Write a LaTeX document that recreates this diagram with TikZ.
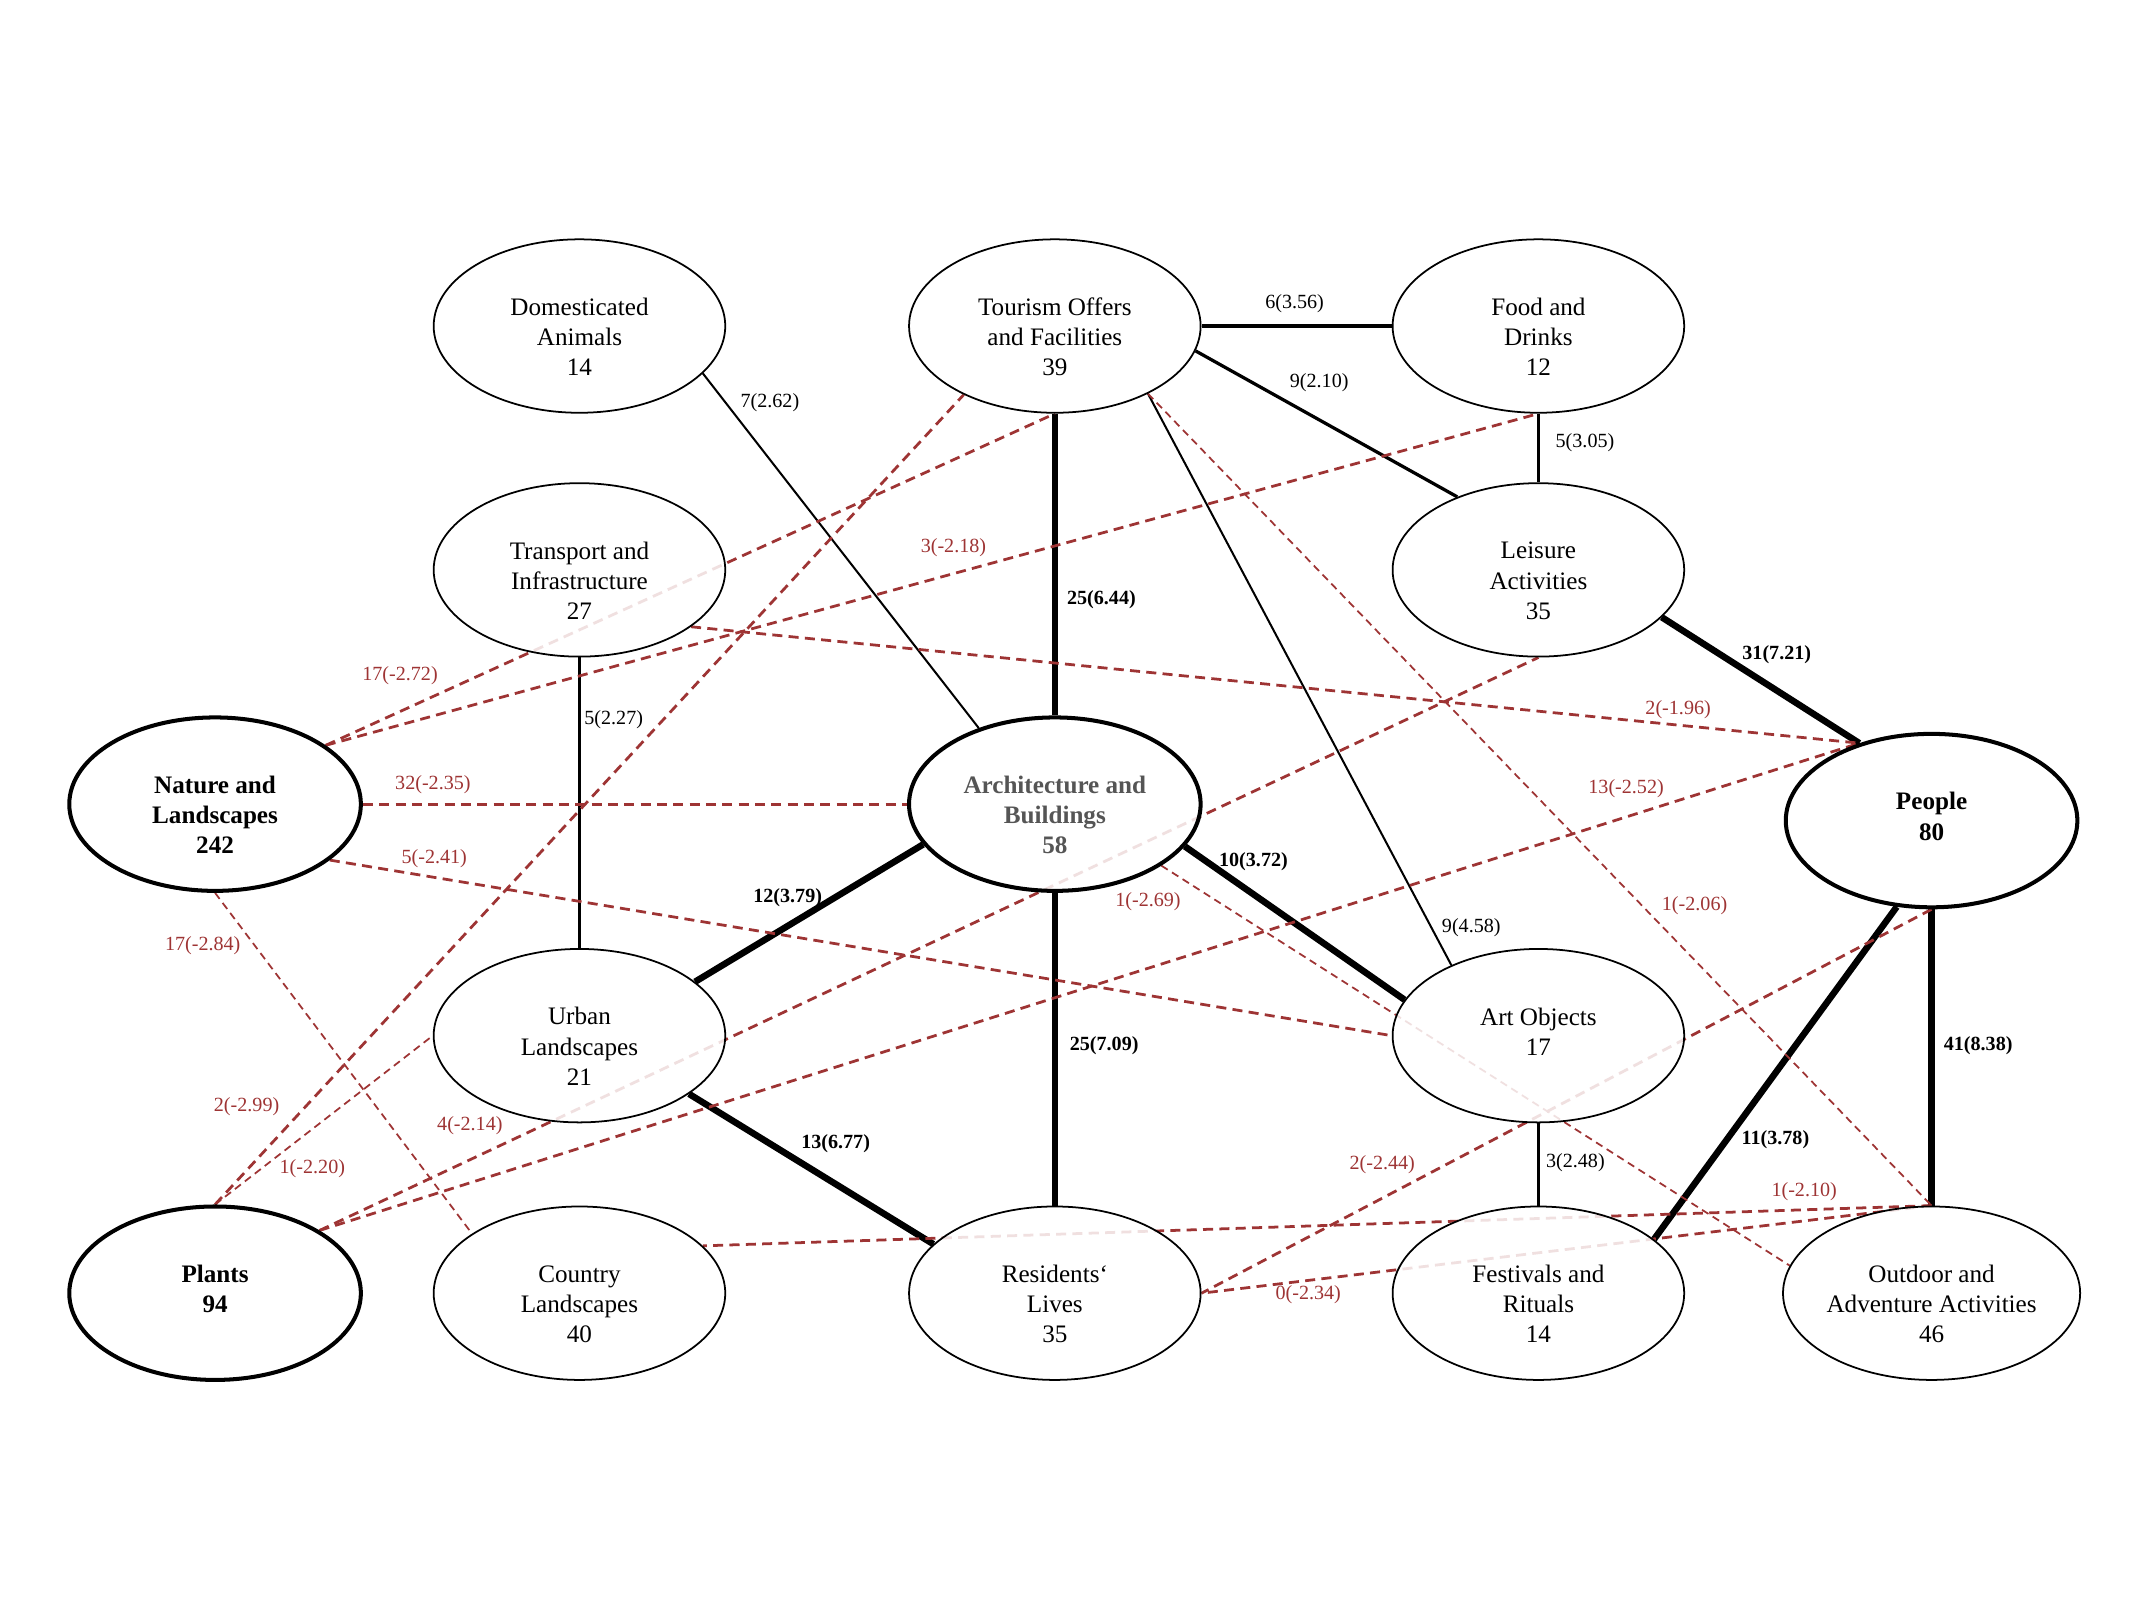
\documentclass[tikz,border=0pt]{standalone}
\usepackage{fontspec}
\setmainfont{Liberation Serif}
\usetikzlibrary{shapes.geometric, backgrounds}

\definecolor{negred}{RGB}{158,52,52}
\definecolor{archgray}{RGB}{85,85,85}

% padding so the text sits low in the ellipse
\newcommand*{\topicpad}{\rule{0pt}{15.4pt}}
\newcommand*{\topicpadshort}{\rule[-3.4pt]{0pt}{3.4pt}}

\begin{document}
\begin{tikzpicture}[
    x=0.545pt, y=-0.545pt,
    % Style definitions
    topic/.style={
        ellipse, draw=black, line width=0.7pt,
        fill=white, fill opacity=0.85, text opacity=1,
        minimum width=116pt, minimum height=69pt, inner sep=0pt,
        font=\fontsize{10}{12}\selectfont, align=center
    },
    maintopic/.style={
        topic, line width=1.6pt,
        font=\fontsize{10}{12}\selectfont\bfseries
    },
    poslink/.style={black, line width=0.8pt},
    posmid/.style={black, line width=1.3pt},
    posstrong/.style={black, line width=2.6pt},
    neglink/.style={negred, line width=0.7pt, dash pattern=on 3pt off 2pt},
    negstrong/.style={negred, line width=1.1pt, dash pattern=on 4pt off 2.5pt},
    poslabel/.style={
        font=\fontsize{8}{9.6}\selectfont, text=black, inner sep=1pt
    },
    stronglabel/.style={
        poslabel, font=\fontsize{8}{9.6}\selectfont\bfseries
    },
    neglabel/.style={poslabel, text=negred},
]

% Column positions
\def\colA{157}
\def\colB{423}
\def\colC{770}
\def\colD{1123}
\def\colE{1410}

% Row positions (top to bottom)
\def\rowA{238}
\def\rowB{416}
\def\rowC{587}
\def\rowD{756}
\def\rowE{944}

\useasboundingbox (0,0) rectangle (1568,1184);

% === Topics ===
\node[topic] (dom) at (\colB, \rowA) {\topicpad Domesticated\\Animals\\14};
\node[topic] (tour) at (\colC, \rowA) {\topicpad Tourism Offers\\and Facilities\\39};
\node[topic] (food) at (\colD, \rowA) {\topicpad Food and\\Drinks\\12};
\node[topic] (trans) at (\colB, \rowB) {\topicpad Transport and\\Infrastructure\\27};
\node[topic] (leis) at (\colD, \rowB) {\topicpad Leisure\\Activities\\35};
\node[maintopic] (nat) at (\colA, \rowC) {\topicpad Nature and\\Landscapes\\242};
\node[maintopic, text=archgray] (arch) at (\colC, \rowC) {\topicpad Architecture and\\Buildings\\58};
\node[maintopic] (peop) at (\colE, \rowC+12) {People\\80\topicpadshort};
\node[topic] (urb) at (\colB, \rowD) {\topicpad Urban\\Landscapes\\21};
\node[topic] (art) at (\colD, \rowD) {Art Objects\\17\topicpadshort};
\node[maintopic] (plant) at (\colA, \rowE) {Plants\\94\topicpadshort};
\node[topic] (ctry) at (\colB, \rowE) {\topicpad Country\\Landscapes\\40};
\node[topic] (res) at (\colC, \rowE) {\topicpad Residents‘\\Lives\\35};
\node[topic] (fest) at (\colD, \rowE) {\topicpad Festivals and\\Rituals\\14};
\node[topic] (outd) at (\colE, \rowE) {\topicpad Outdoor and\\Adventure Activities\\46};

\begin{scope}[on background layer]
% === Positive links ===
\draw[posmid] (tour.east) -- (food.west);
\draw[posmid] (tour.-10) -- (leis.138);
\draw[posmid] (food.south) -- (leis.north);
\draw[poslink] (dom.-21) -- (arch.135);
\draw[posstrong] (tour.south) -- (arch.north);
\draw[poslink] (tour.-36) -- (art.141);
\draw[posmid] (trans.south) -- (urb.north);
\draw[posstrong] (leis.-21) -- (peop.133);
\draw[posstrong] (arch.197) -- (urb.25);
\draw[posstrong] (arch.-18) -- (art.165);
\draw[posstrong] (arch.south) -- (res.north);
\draw[posstrong] (urb.-28) -- (res.158);
\draw[posstrong] (peop.248) -- (fest.25);
\draw[posstrong] (peop.south) -- (outd.north);
\draw[posmid] (art.south) -- (fest.north);

% === Negative links ===
\draw[negstrong] (nat.28) -- (tour.south);
\draw[negstrong] (nat.28) -- (food.south);
\draw[negstrong] (nat.east) -- (arch.west);
\draw[negstrong] (nat.-26) -- (art.west);
\draw[neglink] (nat.south) -- (ctry.151);
\draw[negstrong] (plant.north) -- (tour.217);
\draw[neglink] (plant.north) -- (urb.west);
\draw[negstrong] (plant.31) -- (leis.south);
\draw[negstrong] (plant.31) -- (peop.133);
\draw[negstrong] (trans.-27) -- (peop.133);
\draw[neglink] (tour.-36) -- (outd.north);
\draw[neglink] (arch.-30) -- (outd.169);
\draw[negstrong] (peop.south) -- (res.east);
\draw[negstrong] (outd.north) -- (res.east);
\draw[negstrong] (outd.north) -- (ctry.21);
\end{scope}

% === Positive labels ===
\node[poslabel] (lbTourFood) at (945,222) {6(3.56)};
\node[poslabel] (lbTourLeis) at (963,279) {9(2.10)};
\node[poslabel] (lbFoodLeis) at (1157,323) {5(3.05)};
\node[poslabel] (lbDomArch) at (562,294) {7(2.62)};
\node[stronglabel] (lbTourArch) at (804,438) {25(6.44)};
\node[poslabel] (lbTourArt) at (1074,677) {9(4.58)};
\node[poslabel] (lbTransUrb) at (448,525) {5(2.27)};
\node[stronglabel] (lbLeisPeop) at (1297,478) {31(7.21)};
\node[stronglabel] (lbArchUrb) at (575,655) {12(3.79)};
\node[stronglabel] (lbArchArt) at (915,629) {10(3.72)};
\node[stronglabel] (lbArchRes) at (806,763) {25(7.09)};
\node[stronglabel] (lbUrbRes) at (610,835) {13(6.77)};
\node[stronglabel] (lbPeopFest) at (1296,832) {11(3.78)};
\node[stronglabel] (lbPeopOutd) at (1444,763) {41(8.38)};
\node[poslabel] (lbArtFest) at (1150,849) {3(2.48)};

% === Negative labels ===
\node[neglabel] (lbNatTour) at (292,493) {17(-2.72)};
\node[neglabel] (lbNatFood) at (696,400) {3(-2.18)};
\node[neglabel] (lbNatArch) at (316,573) {32(-2.35)};
\node[neglabel] (lbNatArt) at (317,627) {5(-2.41)};
\node[neglabel] (lbNatCtry) at (148,690) {17(-2.84)};
\node[neglabel] (lbPlantTour) at (180,808) {2(-2.99)};
\node[neglabel] (lbPlantUrb) at (228,853) {1(-2.20)};
\node[neglabel] (lbPlantLeis) at (343,822) {4(-2.14)};
\node[neglabel] (lbTransPeop) at (1225,518) {2(-1.96)};
\node[neglabel] (lbPlantPeop) at (1187,576) {13(-2.52)};
\node[neglabel] (lbTourOutd) at (1237,661) {1(-2.06)};
\node[neglabel] (lbArchOutd) at (838,658) {1(-2.69)};
\node[neglabel] (lbPeopRes) at (1009,850) {2(-2.44)};
\node[neglabel] (lbOutdCtry) at (1317,870) {1(-2.10)};
\node[neglabel] (lbOutdRes) at (955,945) {0(-2.34)};

\end{tikzpicture}
\end{document}
